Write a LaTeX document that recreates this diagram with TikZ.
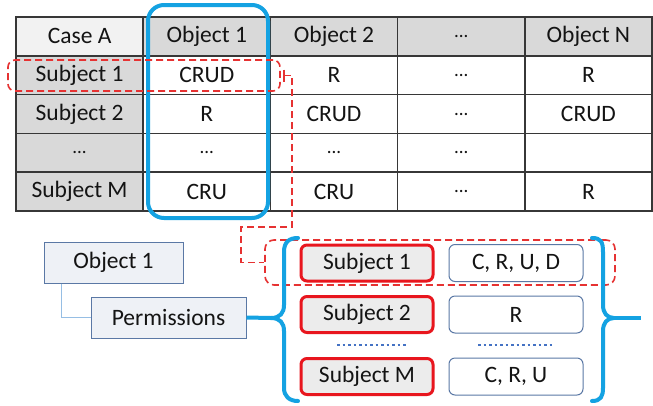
\documentclass[tikz,border=0pt]{standalone}
\usepackage{fontspec}
\setmainfont{Carlito}
\usetikzlibrary{arrows.meta,positioning}
\definecolor{skyblue}{RGB}{20,162,226}
\definecolor{alertred}{RGB}{232,22,30}
\definecolor{dashred}{RGB}{230,50,50}
\definecolor{gridline}{RGB}{55,55,55}
\definecolor{headgray}{RGB}{217,217,217}
\definecolor{cornergray}{RGB}{242,242,242}
\definecolor{ink}{RGB}{20,20,20}
\definecolor{boxedge}{RGB}{90,120,165}
\definecolor{boxfill}{RGB}{238,241,246}
\definecolor{treeline}{RGB}{150,190,228}
\definecolor{dotblue}{RGB}{68,114,196}
\definecolor{subjfill}{RGB}{236,236,236}
\tikzset{
  cell/.style={draw=gridline, line width=1.6pt, minimum width=127.2pt, minimum height=38.8pt,
    inner sep=0pt, text=ink, font=\fontsize{23.5}{27}\selectfont},
  headcell/.style={cell, fill=headgray},
  datacell/.style={cell, fill=white},
  treebox/.style={draw=boxedge, line width=1pt, fill=boxfill, inner sep=0pt, text=ink,
    font=\fontsize{23.5}{27}\selectfont},
  subjbox/.style={draw=alertred, line width=3pt, rounded corners=6pt, fill=subjfill,
    minimum width=132pt, minimum height=36pt, inner sep=0pt, text=ink, font=\fontsize{23.5}{27}\selectfont},
  valbox/.style={draw=boxedge, line width=1pt, rounded corners=6pt, fill=white,
    minimum width=134pt, minimum height=37pt, inner sep=0pt, text=ink, font=\fontsize{23.5}{27}\selectfont},
  reddash/.style={draw=dashred, line width=1.6pt, dash pattern=on 7pt off 4pt},
  bluethick/.style={draw=skyblue, line width=4pt},
  bluedots/.style={draw=dotblue, line width=2.5pt, dash pattern=on 2.5pt off 3pt},
}
\newcommand{\cellgap}{{\fontsize{19}{22}\selectfont ...}}
\begin{document}
\begin{tikzpicture}[x=1pt,y=-1pt]
\useasboundingbox (0,0) rectangle (653,405);
\fill[white] (0,0) rectangle (653,405);

% access matrix: header row
\node[cell, fill=cornergray] (h0) at (79.6,36.4) {Case A};
\node[headcell] (h1) at (206.8,36.4) {Object 1};
\node[headcell] (h2) at (334.0,36.4) {Object 2};
\node[headcell] (h3) at (461.2,36.4) {\cellgap};
\node[headcell] (h4) at (588.4,36.4) {Object N};
% row: Subject 1
\node[headcell] (a0) at (79.6,75.2) {Subject 1};
\node[datacell] (a1) at (206.8,75.2) {CRUD};
\node[datacell] (a2) at (334.0,75.2) {R};
\node[datacell] (a3) at (461.2,75.2) {\cellgap};
\node[datacell] (a4) at (588.4,75.2) {R};
% row: Subject 2
\node[headcell] (b0) at (79.6,114.0) {Subject 2};
\node[datacell] (b1) at (206.8,114.0) {R};
\node[datacell] (b2) at (334.0,114.0) {CRUD};
\node[datacell] (b3) at (461.2,114.0) {\cellgap};
\node[datacell] (b4) at (588.4,114.0) {CRUD};
% row: ellipsis
\node[headcell] (c0) at (79.6,152.8) {\cellgap};
\node[datacell] (c1) at (206.8,152.8) {\cellgap};
\node[datacell] (c2) at (334.0,152.8) {\cellgap};
\node[datacell] (c3) at (461.2,152.8) {\cellgap};
\node[datacell] (c4) at (588.4,152.8) {};
% row: Subject M
\node[headcell] (d0) at (79.6,191.6) {Subject M};
\node[datacell] (d1) at (206.8,191.6) {CRU};
\node[datacell] (d2) at (334.0,191.6) {CRU};
\node[datacell] (d3) at (461.2,191.6) {\cellgap};
\node[datacell] (d4) at (588.4,191.6) {R};

% highlighted column and row
\draw[bluethick, rounded corners=16pt] (148,5) rectangle (268,218);
\node[reddash, rounded corners=7pt, minimum width=272pt, minimum height=31pt, inner sep=0pt]
  (rowsel) at (144,75.5) {};

% tree of the object entry
\node[treebox, minimum width=139pt, minimum height=41pt] (obj) at (113.5,262.5) {Object 1};
\node[treebox, minimum width=155pt, minimum height=41pt] (perm) at (168.5,317.5) {Permissions};
\draw[treeline, line width=1.2pt] ([xshift=18pt]obj.south west) |- (perm.west);

% permission list
\node[subjbox] (s1) at (367,263) {Subject 1};
\node[subjbox] (s2) at (367,314.5) {Subject 2};
\node[subjbox] (sM) at (367,376.5) {Subject M};
\node[valbox] (v1) at (516,263) {C, R, U, D};
\node[valbox] (v2) at (516,314.5) {R};
\node[valbox] (vM) at (516,376.5) {C, R, U};
\draw[bluedots] (337,345) -- (408,345);
\draw[bluedots] (478,345) -- (552,345);

% selected entry in the list
\node[reddash, rounded corners=9pt, minimum width=350pt, minimum height=45pt, inner sep=0pt]
  (entsel) at (440,262.5) {};

% link from the matrix row to the list entry, starting with a bar
\coordinate (linkstart) at ([xshift=3pt]rowsel.east);
\draw[draw=dashred, line width=1.6pt] ([yshift=6pt]linkstart) -- ([yshift=-6pt]linkstart);
\draw[reddash] (linkstart) -- (292,75.5)
  -- (292,227) -- (241,227) |- (entsel.west);

% braces around the list
\coordinate (ltip) at (271,318);
\coordinate (rtip) at (614,318);
\coordinate (rend) at (641,318);
\draw[bluethick] (perm.east) -- (ltip);
\draw[bluethick, line cap=round]
  (298,238) .. controls (289,238) and (284,242) .. (284,252) -- (284,305)
  .. controls (284,313) and (280,318) .. (ltip)
  .. controls (280,318) and (284,323) .. (284,331) -- (284,388)
  .. controls (284,396) and (289,401) .. (298,401);
\draw[bluethick, line cap=round]
  (592,238) .. controls (601,238) and (603,242) .. (603,252) -- (603,305)
  .. controls (603,313) and (607,318) .. (rtip)
  .. controls (607,318) and (603,323) .. (603,331) -- (603,388)
  .. controls (603,396) and (601,401) .. (592,401);
\draw[bluethick] (rtip) -- (rend);
\end{tikzpicture}
\end{document}
